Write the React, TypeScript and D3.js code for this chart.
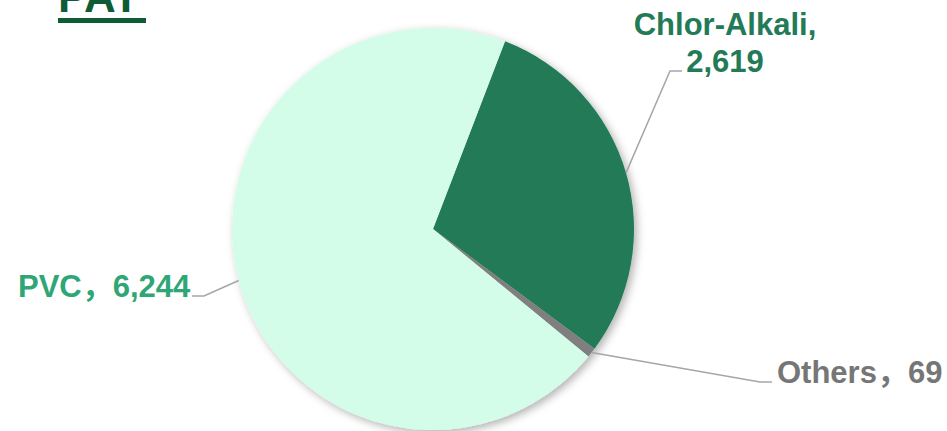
import React from "react";
import * as d3 from "d3";

const categories = ["Chlor-Alkali", "Others", "PVC"];
const values = [2619, 69, 6244];
const valueLabels = ["2,619", "69", "6,244"];
const sliceColors = ["#237a57", "#7f7f7f", "#d4fde9"];
const labelColors = ["#237a57", "#767676", "#2ea676"];
const title = "PAT";

const W = 947;
const H = 431;
const cx = 433;
const cy = 229;
const R = 201;

export default function App() {
  const pie = d3
    .pie<number>()
    .sort(null)
    .value((d) => d)
    .startAngle((21 * Math.PI) / 180)
    .endAngle((21 * Math.PI) / 180 + 2 * Math.PI);
  const arcs = pie(values);
  const arcGen = d3.arc<d3.PieArcDatum<number>>().innerRadius(0).outerRadius(R);

  const edge = (a: d3.PieArcDatum<number>) => {
    const m = (a.startAngle + a.endAngle) / 2;
    return [cx + R * Math.sin(m), cy - R * Math.cos(m)];
  };

  const font = "'Liberation Sans', Arial, 'Noto Sans CJK SC', sans-serif";
  const [ca, ot, pv] = arcs;
  const caE = edge(ca);
  const otE = edge(ot);
  const pvE = edge(pv);

  return (
    <svg
      width={W}
      height={H}
      style={{ position: "absolute", left: 0, top: 0, background: "#fff" }}
      fontFamily={font}
    >
      <defs>
        <filter id="sh" x="-20%" y="-20%" width="140%" height="140%">
          <feDropShadow dx="3" dy="3" stdDeviation="4" floodColor="#000" floodOpacity="0.3" />
        </filter>
      </defs>
      <text x={58} y={12} fontSize={44} fontWeight="bold" fill="#0e5c36">
        {title}
      </text>
      <rect x={58} y={18} width={88} height={5} fill="#0e5c36" />
      <g filter="url(#sh)" transform={`translate(${cx},${cy})`}>
        {arcs.map((a, i) => (
          <path key={categories[i]} d={arcGen(a) || ""} fill={sliceColors[i]} />
        ))}
      </g>
      <g fill="none" stroke="#a6a6a6" strokeWidth={1.5}>
        <polyline points={`${caE[0]},${caE[1]} 670,71 682,71`} />
        <polyline points={`${otE[0]},${otE[1]} 760,382 772,382`} />
        <polyline points={`${pvE[0]},${pvE[1]} 204,296 192,296`} />
      </g>
      <g fontSize={31} fontWeight="bold">
        <text x={725} y={35} textAnchor="middle" fill={labelColors[0]}>
          {categories[0]},
        </text>
        <text x={725} y={72} textAnchor="middle" fill={labelColors[0]}>
          {valueLabels[0]}
        </text>
        <text x={777} y={383} fill={labelColors[1]}>
          {categories[1]}，{valueLabels[1]}
        </text>
        <text x={18} y={297} fill={labelColors[2]}>
          {categories[2]}，{valueLabels[2]}
        </text>
      </g>
    </svg>
  );
}
